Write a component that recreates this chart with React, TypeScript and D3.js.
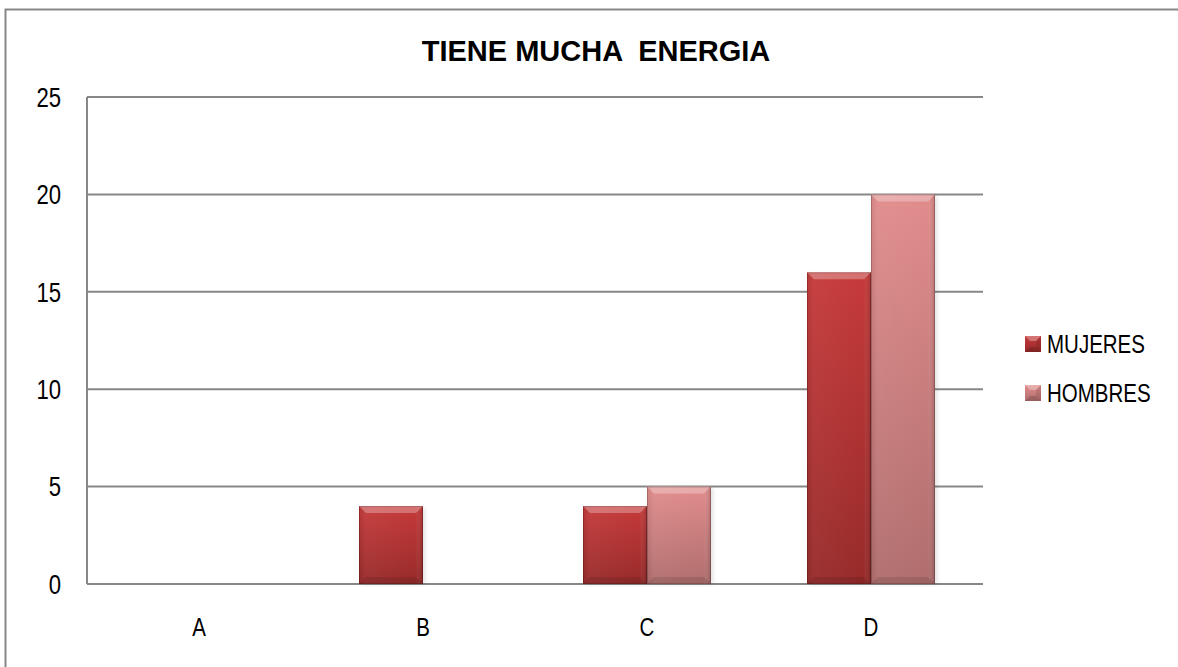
import * as d3 from 'd3'

const W = 1178
const H = 667
const MARGIN = { top: 97, right: 195, bottom: 83, left: 87 }

const TITLE = 'TIENE MUCHA  ENERGIA'
const CATEGORIES = ['A', 'B', 'C', 'D']
const SERIES = ['MUJERES', 'HOMBRES']
const MUJERES = [0, 4, 4, 16]
const HOMBRES = [0, 0, 5, 20]
const Y_TICKS = [0, 5, 10, 15, 20, 25]

const GRID = '#878787'
const SANS = "'Liberation Sans', Arial, sans-serif"
const NARROW = 0.82 // no narrow face installed, squeeze the regular one

// top, bottom colours for each series
const COLORS: Record<string, [string, string]> = {
  MUJERES: ['#c63a3a', '#972a2a'],
  HOMBRES: ['#e18c8c', '#b06d6d'],
}

function NarrowText({ x, y, size, anchor, children }: { x: number; y: number; size: number; anchor?: string; children: any }) {
  return (
    <text
      transform={`translate(${x},${y}) scale(${NARROW},1)`}
      dy="0.36em"
      textAnchor={anchor ?? 'start'}
      fontFamily={SANS}
      fontSize={size}
      fill="#000"
    >
      {children}
    </text>
  )
}

export default function App() {
  const w = W - MARGIN.left - MARGIN.right
  const h = H - MARGIN.top - MARGIN.bottom

  const x = d3.scaleBand<string>().domain(CATEGORIES).range([0, w])
  const x1 = d3.scaleBand<string>().domain(SERIES).range([-64, 64])
  const y = d3.scaleLinear().domain([0, 25]).range([h, 0])

  const rows = CATEGORIES.map((c, i) => ({ cat: c, MUJERES: MUJERES[i], HOMBRES: HOMBRES[i] }))

  const bar = (s: string, cat: string, v: number) => {
    if (v <= 0) return null
    const bx = (x(cat) ?? 0) + x.bandwidth() / 2 + (x1(s) ?? 0)
    const bw = x1.bandwidth()
    const by = y(v)
    const bh = h - by
    const b = 7
    return (
      <g key={`${s}-${cat}`}>
        <rect x={bx + 2} y={by + 2} width={bw} height={bh - 2} fill="#000" opacity={0.12} filter="url(#soft)" />
        <rect x={bx} y={by} width={bw} height={bh} fill={`url(#v-${s})`} />
        <rect x={bx} y={by} width={bw} height={bh} fill="url(#sides)" />
        <path d={`M${bx},${by}h${bw}l${-b},${b}h${-(bw - 2 * b)}z`} fill="#fff" opacity={0.28} />
        <path d={`M${bx},${by + bh}h${bw}l${-b},${-b}h${-(bw - 2 * b)}z`} fill="#000" opacity={0.1} />
        <rect x={bx + 0.5} y={by + 0.5} width={bw - 1} height={bh - 1} fill="none" stroke="#000" strokeOpacity={0.18} />
      </g>
    )
  }

  return (
    <div style={{ position: 'fixed', left: 0, top: 0, width: W, height: H, background: '#fff' }}>
      <svg width={W} height={H} style={{ display: 'block' }}>
        <defs>
          {SERIES.map((s) => (
            <linearGradient key={s} id={`v-${s}`} x1="0" y1="0" x2="0" y2="1">
              <stop offset="0%" stopColor={COLORS[s][0]} />
              <stop offset="100%" stopColor={COLORS[s][1]} />
            </linearGradient>
          ))}
          <linearGradient id="sides" x1="0" y1="0" x2="1" y2="0">
            <stop offset="0%" stopColor="#000" stopOpacity={0.08} />
            <stop offset="12%" stopColor="#fff" stopOpacity={0.04} />
            <stop offset="88%" stopColor="#fff" stopOpacity={0} />
            <stop offset="100%" stopColor="#000" stopOpacity={0.18} />
          </linearGradient>
          <filter id="soft" x="-20%" y="-20%" width="140%" height="140%">
            <feGaussianBlur stdDeviation="2" />
          </filter>
        </defs>

        {/* chart frame: only top and left edges fall inside the picture */}
        <path d={`M5.5,${H}V9.5H${W}`} fill="none" stroke={GRID} strokeWidth={2} />

        <text x={596} y={61} textAnchor="middle" fontFamily={SANS} fontWeight="bold" fontSize={29} fill="#000" style={{ whiteSpace: 'pre' }}>
          {TITLE}
        </text>

        <g transform={`translate(${MARGIN.left},${MARGIN.top})`}>
          {Y_TICKS.map((t) => (
            <g key={t}>
              <line x1={0} x2={w} y1={y(t)} y2={y(t)} stroke={GRID} strokeWidth={2} />
              <NarrowText x={-26} y={y(t)} size={27} anchor="end">{t}</NarrowText>
            </g>
          ))}
          <line x1={0} x2={0} y1={0} y2={h} stroke={GRID} strokeWidth={2} />

          {rows.map((r) => SERIES.map((s) => bar(s, r.cat, (r as any)[s])))}

          {CATEGORIES.map((c) => (
            <NarrowText key={c} x={(x(c) ?? 0) + x.bandwidth() / 2} y={h + 43} size={25} anchor="middle">{c}</NarrowText>
          ))}
        </g>

        <g transform="translate(1025,344)">
          {SERIES.map((s, i) => (
            <g key={s} transform={`translate(0,${i * 49})`}>
              <rect x={0} y={-8} width={16} height={16} fill={`url(#v-${s})`} />
              <path d="M0,-8h16l-5,5h-6z" fill="#fff" opacity={0.3} />
              <path d="M0,8h16l-5,-5h-6z" fill="#000" opacity={0.15} />
              <path d="M16,-8v16l-5,-5v-6z" fill="#000" opacity={0.1} />
              <NarrowText x={22} y={0} size={25}>{s}</NarrowText>
            </g>
          ))}
        </g>
      </svg>
    </div>
  )
}
